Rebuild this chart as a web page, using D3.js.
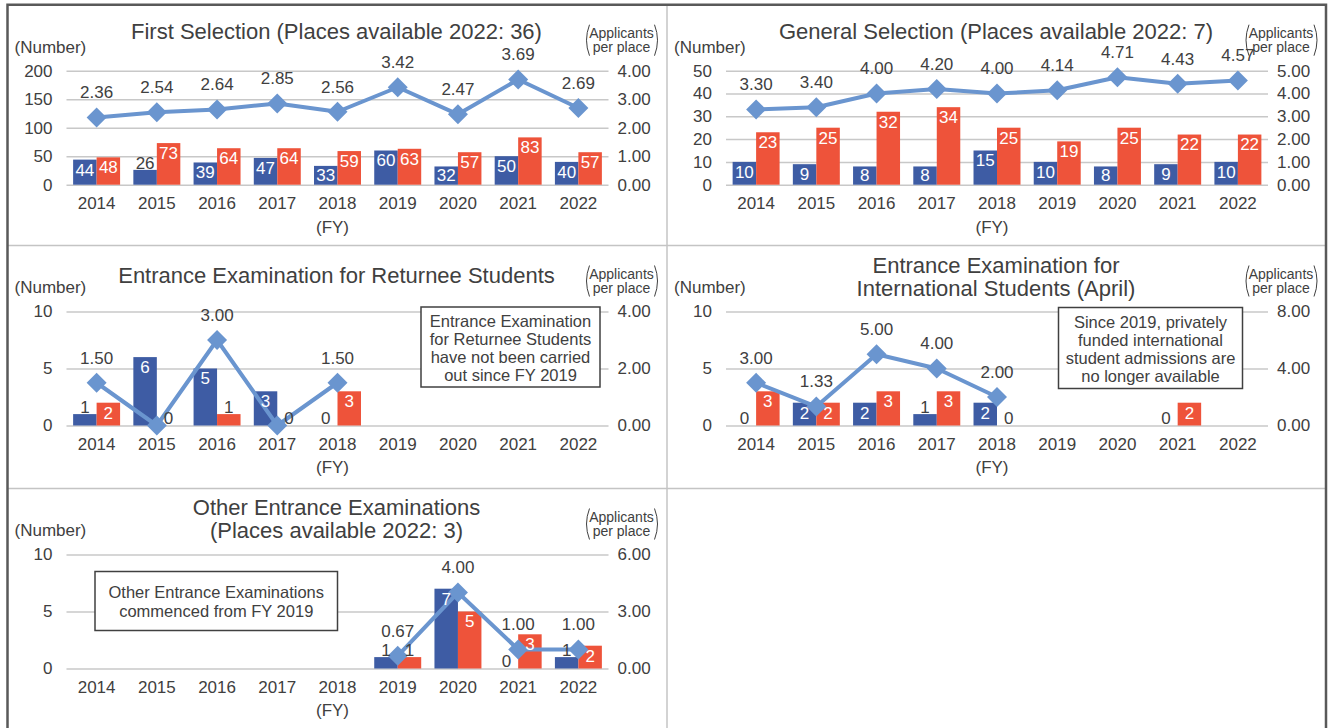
<!DOCTYPE html>
<html>
<head>
<meta charset="utf-8">
<script src="https://cdn.jsdelivr.net/npm/d3@7"></script>
<style>
  body { margin: 0; background: #fff; }
  svg text { font-family: "Liberation Sans", Arial, sans-serif; fill: #404040; }
</style>
</head>
<body>
<svg id="chart" width="1328" height="728"></svg>
<script>
// 年度
const years = ["2014", "2015", "2016", "2017", "2018", "2019", "2020", "2021", "2022"];

// First Selection
const firstBlue = [44, 26, 39, 47, 33, 60, 32, 50, 40];
const firstRed = [48, 73, 64, 64, 59, 63, 57, 83, 57];
const firstRatio = [2.36, 2.54, 2.64, 2.85, 2.56, 3.42, 2.47, 3.69, 2.69];

// General Selection
const generalBlue = [10, 9, 8, 8, 15, 10, 8, 9, 10];
const generalRed = [23, 25, 32, 34, 25, 19, 25, 22, 22];
const generalRatio = [3.30, 3.40, 4.00, 4.20, 4.00, 4.14, 4.71, 4.43, 4.57];

// Returnee Students
const returneeBlue = [1, 6, 5, 3, 0, null, null, null, null];
const returneeRed = [2, 0, 1, 0, 3, null, null, null, null];
const returneeRatio = [1.50, 0, 3.00, 0, 1.50, null, null, null, null];

// International Students (April)
const intlBlue = [0, 2, 2, 1, 2, null, null, 0, null];
const intlRed = [3, 2, 3, 3, 0, null, null, 2, null];
const intlRatio = [3.00, 1.33, 5.00, 4.00, 2.00, null, null, null, null];

// Other Entrance Examinations
const otherBlue = [null, null, null, null, null, 1, 7, 0, 1];
const otherRed = [null, null, null, null, null, 1, 5, 3, 2];
const otherRatio = [null, null, null, null, null, 0.67, 4.00, 1.00, 1.00];

// 軸刻度
const firstLeftTicks = [0, 50, 100, 150, 200];
const firstRightTicks = [0, 1, 2, 3, 4];
const generalLeftTicks = [0, 10, 20, 30, 40, 50];
const generalRightTicks = [0, 1, 2, 3, 4, 5];
const returneeLeftTicks = [0, 5, 10];
const returneeRightTicks = [0, 2, 4];
const intlLeftTicks = [0, 5, 10];
const intlRightTicks = [0, 4, 8];
const otherLeftTicks = [0, 5, 10];
const otherRightTicks = [0, 3, 6];

// 說明框文字
const returneeNote = ["Entrance Examination", "for Returnee Students", "have not been carried", "out since FY 2019"];
const intlNote = ["Since 2019, privately", "funded international", "student admissions are", "no longer available"];
const otherNote = ["Other Entrance Examinations", "commenced from FY 2019"];

const panels = [
  { title: ["First Selection (Places available 2022: 36)"], titleY: [27], blue: firstBlue, red: firstRed, ratio: firstRatio,
    left: firstLeftTicks, right: firstRightTicks, col: 0, row: 0 },
  { title: ["General Selection (Places available 2022: 7)"], titleY: [27], blue: generalBlue, red: generalRed, ratio: generalRatio,
    left: generalLeftTicks, right: generalRightTicks, col: 1, row: 0 },
  { title: ["Entrance Examination for Returnee Students"], titleY: [30], blue: returneeBlue, red: returneeRed, ratio: returneeRatio,
    left: returneeLeftTicks, right: returneeRightTicks, col: 0, row: 1,
    note: { lines: returneeNote, x: 413.5, y: 61.5, w: 179, h: 80, lineY: 14.5, step: 18 } },
  { title: ["Entrance Examination for", "International Students (April)"], titleY: [20, 43], blue: intlBlue, red: intlRed, ratio: intlRatio,
    left: intlLeftTicks, right: intlRightTicks, col: 1, row: 1,
    note: { lines: intlNote, x: 391.5, y: 62, w: 184, h: 81, lineY: 14.5, step: 18 } },
  { title: ["Other Entrance Examinations", "(Places available 2022: 3)"], titleY: [19, 42], blue: otherBlue, red: otherRed, ratio: otherRatio,
    left: otherLeftTicks, right: otherRightTicks, col: 0, row: 2,
    note: { lines: otherNote, x: 87.5, y: 83, w: 242.5, h: 59, lineY: 20.5, step: 19.5 } }
];

const blueColor = "#3e5ca4";
const redColor = "#ee533a";
const lineColor = "#6a95cf";
const gridColor = "#c8c8c8";
const fs = 17;

const svg = d3.select("#chart");
const colX = [7.5, 667];
const rowY = [4.7, 245.5, 488.5];
const xLeft = 59, xRight = 601, yTop = 66, yBottom = 180;

// 外框與分隔線
svg.append("g").selectAll("line")
  .data([[667, 4.7, 667, 728], [7.5, 245.5, 1326, 245.5], [7.5, 488.5, 1326, 488.5]])
  .join("line")
  .attr("x1", d => d[0]).attr("y1", d => d[1]).attr("x2", d => d[2]).attr("y2", d => d[3])
  .attr("stroke", "#c4c4c4").attr("stroke-width", 1.5);

svg.append("path")
  .attr("d", "M7.5,728V4.7H1326V728")
  .attr("fill", "none").attr("stroke", "#595959").attr("stroke-width", 2.5);

panels.forEach(drawPanel);

function drawPanel(p) {
  const g = svg.append("g")
    .attr("transform", `translate(${colX[p.col]},${rowY[p.row]})`);

  const x = d3.scaleBand().domain(years).range([xLeft, xRight])
    .paddingInner(0.22).paddingOuter(0.11);
  const x1 = d3.scaleBand().domain(["blue", "red"]).range([0, x.bandwidth()]);
  const y = d3.scaleLinear().domain([0, d3.max(p.left)]).range([yBottom, yTop]);
  const y2 = d3.scaleLinear().domain([0, d3.max(p.right)]).range([yBottom, yTop]);
  const cx = d => x(d) + x.bandwidth() / 2;

  // 左軸 + 格線
  g.append("g")
    .attr("transform", `translate(${xLeft},0)`)
    .call(d3.axisLeft(y).tickValues(p.left).tickSizeInner(-(xRight - xLeft)).tickSizeOuter(0).tickPadding(14))
    .call(a => a.select(".domain").remove())
    .call(a => a.selectAll("line").attr("stroke", gridColor).attr("stroke-width", 1.5))
    .call(a => a.selectAll("text").attr("font-size", fs).attr("fill", "#404040"));

  // 右軸
  g.append("g")
    .attr("transform", `translate(${xRight},0)`)
    .call(d3.axisRight(y2).tickValues(p.right).tickSize(0).tickPadding(9).tickFormat(d3.format(".2f")))
    .call(a => a.select(".domain").remove())
    .call(a => a.selectAll("text").attr("font-size", fs).attr("fill", "#404040"));

  // X 軸
  g.append("g")
    .attr("transform", `translate(0,${yBottom})`)
    .call(d3.axisBottom(x).tickSize(0).tickPadding(12))
    .call(a => a.select(".domain").remove())
    .call(a => a.selectAll("text").attr("font-size", fs).attr("fill", "#404040"));

  g.append("text")
    .attr("x", 325).attr("y", yBottom + 42).attr("dy", "0.35em")
    .attr("text-anchor", "middle").attr("font-size", fs)
    .text("(FY)");

  // 標題
  g.append("g").selectAll("text")
    .data(p.title)
    .join("text")
    .attr("x", 329).attr("y", (d, i) => p.titleY[i]).attr("dy", "0.35em")
    .attr("text-anchor", "middle").attr("font-size", 22)
    .text(d => d);

  g.append("text")
    .attr("x", 7).attr("y", 42).attr("dy", "0.35em")
    .attr("font-size", fs)
    .text("(Number)");

  const ap = g.append("g").attr("transform", "translate(614,0)");
  ap.selectAll("text")
    .data(["Applicants", "per place"])
    .join("text")
    .attr("x", 0).attr("y", (d, i) => 28.5 + i * 14).attr("dy", "0.35em")
    .attr("text-anchor", "middle").attr("font-size", 14)
    .text(d => d);
  ap.append("path")
    .attr("d", "M-32,20Q-38,35.5 -32,51M33,20Q39,35.5 33,51")
    .attr("fill", "none").attr("stroke", "#404040").attr("stroke-width", 1);

  // 長條
  const barData = [];
  years.forEach((yr, i) => {
    if (p.blue[i] != null) barData.push({ yr, key: "blue", v: p.blue[i] });
    if (p.red[i] != null) barData.push({ yr, key: "red", v: p.red[i] });
  });

  g.append("g").selectAll("rect")
    .data(barData.filter(d => d.v > 0))
    .join("rect")
    .attr("x", d => x(d.yr) + x1(d.key))
    .attr("y", d => y(d.v))
    .attr("width", x1.bandwidth())
    .attr("height", d => yBottom - y(d.v))
    .attr("fill", d => d.key === "blue" ? blueColor : redColor);

  // 折線
  const pts = years.map((yr, i) => ({ yr, v: p.ratio[i] }));
  g.append("path")
    .datum(pts)
    .attr("fill", "none")
    .attr("stroke", lineColor)
    .attr("stroke-width", 4)
    .attr("stroke-linejoin", "round")
    .attr("d", d3.line().defined(d => d.v != null).x(d => cx(d.yr)).y(d => y2(d.v)));

  g.append("g").selectAll("path")
    .data(pts.filter(d => d.v != null))
    .join("path")
    .attr("transform", d => `translate(${cx(d.yr)},${y2(d.v)}) rotate(45)`)
    .attr("d", d3.symbol(d3.symbolSquare, 200))
    .attr("fill", lineColor);

  // 長條數值
  g.append("g").selectAll("text")
    .data(barData)
    .join("text")
    .attr("x", d => x(d.yr) + x1(d.key) + x1.bandwidth() / 2)
    .attr("y", d => {
      const top = y(d.v);
      if (yBottom - top >= 16) return Math.min(top + 10, yBottom - 10);
      return top - 7;
    })
    .attr("dy", "0.35em")
    .attr("text-anchor", "middle")
    .attr("font-size", fs)
    .style("fill", d => (yBottom - y(d.v) >= 16) ? "#ffffff" : "#404040")
    .text(d => d.v);

  // 折線數值
  g.append("g").selectAll("text")
    .data(pts.filter(d => d.v != null && d.v > 0))
    .join("text")
    .attr("x", d => cx(d.yr))
    .attr("y", d => y2(d.v) - 25)
    .attr("dy", "0.35em")
    .attr("text-anchor", "middle")
    .attr("font-size", fs)
    .text(d => d.v.toFixed(2));

  // 說明框
  if (p.note) {
    const n = p.note;
    const box = g.append("g");
    box.append("rect")
      .attr("x", n.x).attr("y", n.y).attr("width", n.w).attr("height", n.h)
      .attr("fill", "#fff").attr("stroke", "#404040").attr("stroke-width", 1.5);
    box.selectAll("text")
      .data(n.lines)
      .join("text")
      .attr("x", n.x + n.w / 2)
      .attr("y", (d, i) => n.y + n.lineY + i * n.step)
      .attr("dy", "0.35em")
      .attr("text-anchor", "middle")
      .attr("font-size", 16.5)
      .text(d => d);
  }
}
</script>
</body>
</html>
